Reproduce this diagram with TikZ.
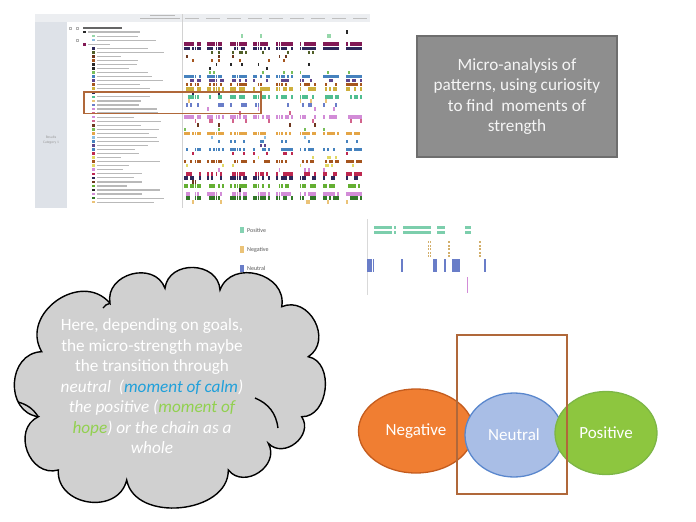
\documentclass[tikz,border=0pt]{standalone}
\usepackage{fontspec}
\setmainfont{Carlito}
\usetikzlibrary{shapes.geometric}

\definecolor{boxgray}{RGB}{142,142,142}
\definecolor{boxedge}{RGB}{110,110,110}
\definecolor{cloudgray}{RGB}{208,208,208}
\definecolor{hilite}{RGB}{176,104,58}
\definecolor{panel}{RGB}{222,226,232}
\definecolor{headgray}{RGB}{236,238,241}
\definecolor{calmblue}{RGB}{32,160,218}
\definecolor{hopegreen}{RGB}{146,208,80}
\definecolor{negfill}{RGB}{240,126,50}
\definecolor{negedge}{RGB}{196,92,30}
\definecolor{neufill}{RGB}{169,190,230}
\definecolor{neuedge}{RGB}{90,135,205}
\definecolor{posfill}{RGB}{141,198,63}
\definecolor{posedge}{RGB}{125,182,70}
% colours of the coded rows
\definecolor{nvblack}{RGB}{40,40,40}
\definecolor{mint}{RGB}{150,215,170}
\definecolor{maroon}{RGB}{130,25,85}
\definecolor{navy}{RGB}{45,40,90}
\definecolor{olive}{RGB}{80,95,40}
\definecolor{brownd}{RGB}{110,55,30}
\definecolor{rust}{RGB}{165,85,30}
\definecolor{ltgreen}{RGB}{120,190,90}
\definecolor{steel}{RGB}{70,130,190}
\definecolor{violet}{RGB}{95,70,140}
\definecolor{ochre}{RGB}{205,175,60}
\definecolor{teal}{RGB}{80,190,145}
\definecolor{sand}{RGB}{235,195,120}
\definecolor{codeblue}{RGB}{105,125,200}
\definecolor{pinkish}{RGB}{210,140,215}
\definecolor{rose}{RGB}{210,100,140}
\definecolor{orangey}{RGB}{228,165,70}
\definecolor{sky}{RGB}{140,190,225}
\definecolor{crimson}{RGB}{190,40,80}
\definecolor{lemon}{RGB}{225,215,100}
\definecolor{grass}{RGB}{100,175,50}
\definecolor{dgreen}{RGB}{50,120,40}

\begin{document}
\begin{tikzpicture}[x=1pt,y=-1pt,
    textbar/.style={fill=gray!55},
    puff/.style={bend left=85,looseness=1.35},
    legendtext/.style={anchor=west,inner sep=0,text=gray!70!black,font=\fontsize{6}{7}\selectfont},
    feeling/.style={ellipse,inner sep=0,line width=1.3,text=white,font=\fontsize{17}{20}\selectfont}]
\useasboundingbox (0,0) rectangle (696,522);

% screenshot of the coding timeline
\fill[white] (35,14) rectangle (370,208);
\fill[panel] (35,14) rectangle (67,208);
\fill[headgray] (35,14) rectangle (370,22);
\draw[gray!35] (182,14) -- (182,208);
\fill[gray!55] (150,14.8) rectangle (175,16);
\fill[gray!55] (140,18) rectangle (180,19.2);
\foreach \x in {192,213,...,362}
    \fill[gray!50] (\x-7,17.6) rectangle (\x+7,18.8);
\node[align=center,text=gray!80,font=\fontsize{3.6}{4.2}\selectfont] (rescat) at (51,140) {Results\\Category 1};

\pgfmathsetseed{11}
\foreach \rowcol/\dens [count=\i from 0] in {gray/0,nvblack/0.03,mint/0.02,sky/0,maroon/0.88,navy/0.82,
    olive/0.12,brownd/0.1,rust/0.1,nvblack/0.06,nvblack/0.05,ltgreen/0.08,steel/0.75,violet/0.5,
    rust/0.5,ochre/0.7,navy/0.05,teal/0.65,sand/0.12,codeblue/0.3,pinkish/0.1,rose/0.06,
    pinkish/0.72,rose/0.1,brownd/0.04,ltgreen/0.1,orangey/0.78,sky/0.08,steel/0.15,violet/0.04,
    steel/0.65,crimson/0.12,lemon/0.1,rust/0.6,lemon/0.08,pinkish/0.1,crimson/0.65,navy/0.6,
    brownd/0.05,grass/0.78,nvblack/0.08,pinkish/0.72,dgreen/0.72,sand/0.1} {
  \pgfmathsetmacro\yy{28+4.05*\i}
  \ifnum\i=0
    \draw[gray!60,line width=0.3] (69,\yy-1.2) rectangle (71.4,\yy+1.2);
    \fill[gray!80!black] (83,\yy-0.8) rectangle (122,\yy+0.8);
  \else
    \pgfmathsetmacro\sx{(\i==1 || \i==4) ? 83 : 92}
    \pgfmathsetmacro\len{22+45*rnd}
    \fill[\rowcol] (\sx,\yy-1.3) rectangle (\sx+2.6,\yy+1.3);
    \fill[textbar] (\sx+5,\yy-0.6) rectangle (\sx+5+\len,\yy+0.6);
    \foreach \cc in {0,...,87} {
      \pgfmathtruncatemacro\hit{(rnd<\dens && mod(\cc,11)<8) ? 1 : 0}
      \ifnum\hit=1
        \fill[\rowcol] (184+2.1*\cc,\yy-1.75) rectangle (185.9+2.1*\cc,\yy+1.75);
      \fi
    }
  \fi
}
\draw[gray!60,line width=0.3] (76,40.2-1.2) rectangle (78.4,40.2+1.2);
\draw[gray!60,line width=0.3] (76,28-1.2) rectangle (78.4,28+1.2);
\draw[hilite,line width=1.8] (84,92) rectangle (261,113.5);

% zoomed part of the timeline
\draw[gray!30] (367,219) -- (367,295);
\fill[teal!70] (240,226.5) rectangle (243.5,233);
\node[legendtext] (lpos) at (247,230) {Positive};
\fill[sand] (240,246) rectangle (243.5,252.5);
\node[legendtext] (lneg) at (247,249.5) {Negative};
\fill[codeblue] (240,265) rectangle (243.5,271.5);
\node[legendtext] (lneu) at (247,268.5) {Neutral};
\foreach \x in {374,376,378,380,382,384,386,388,390,394,403,405,407,409,411,413,415,417,419,421,423,425,427,429,437,439,441,443,465,467,469} {
    \fill[teal!75] (\x,225.5) rectangle (\x+1.5,229);
    \fill[teal!75] (\x,230.5) rectangle (\x+1.5,234);
}
\foreach \x in {428.5,430.5,449,480}
    \foreach \y in {241,244.5,248,251.5,255}
        \fill[sand!90!black] (\x-0.8,\y) rectangle (\x+0.8,\y+2.4);
\foreach \x in {368,369.8,371.6,373.4,402,434,436,445,453,455,457,459,485}
    \fill[codeblue] (\x-0.7,259) rectangle (\x+0.7,272);
\fill[pinkish] (466.5,277) rectangle (468,293);

% grey note
\node[draw=boxedge,fill=boxgray,line width=1.2,minimum width=200,minimum height=121,
    align=center,text=gray!8,font=\fontsize{17.2}{20.5}\selectfont] (note) at (517,96.5)
    {Micro-analysis of\\patterns, using curiosity\\to find\ \ moments of\\strength};

% thought cloud
\coordinate (v1) at (41.7,351.7);
\coordinate (v2) at (110,303.3);
\coordinate (v3) at (165,288.3);
\coordinate (v4) at (220,290);
\coordinate (v5) at (281.7,306.7);
\coordinate (v6) at (308.3,356.7);
\coordinate (v7) at (301.7,416.7);
\coordinate (v8) at (268.3,443.3);
\coordinate (v9) at (228.3,470);
\coordinate (v10) at (126.7,480);
\coordinate (v11) at (58.3,470);
\coordinate (v12) at (38.3,416.7);
\filldraw[draw=black,fill=cloudgray,line width=1.4] (v1) to[puff] (v2) to[puff] (v3) to[puff] (v4)
    to[puff] (v5) to[puff] (v6) to[puff,looseness=1.15] (v7) to[puff] (v8) to[puff] (v9)
    to[puff,looseness=1.1] (v10) to[puff] (v11) to[puff] (v12) to[puff] (v1) -- cycle;
\draw[line width=1.4] (18,402) to[bend left=20] (v12);
\draw[line width=1.4] (255,398) to[bend left=30] (278,428);
\draw[line width=1.4] (103,308) to[bend left=20] (v2);
\node[align=center,text=white,font=\fontsize{17.2}{20.5}\selectfont] (thoughttext) at (152,386.5)
    {Here, depending on goals,\\
     the micro-strength maybe\\
     the transition through\\
     \textit{neutral\ \ (\textcolor{calmblue}{moment of calm})}\\
     \textit{the positive (\textcolor{hopegreen}{moment of}}\\
     \textit{\textcolor{hopegreen}{hope}) or the chain as a}\\
     \textit{whole}};

% negative, neutral, positive
\node[feeling,draw=negedge,fill=negfill,minimum width=115,minimum height=84] (neg) at (416,431) {Negative};
\node[feeling,draw=neuedge,fill=neufill,minimum width=98,minimum height=84] (neu) at (514,435) {Neutral};
\node[feeling,draw=posedge,fill=posfill,minimum width=102,minimum height=83] (pos) at (606,433) {Positive};
\draw[hilite,line width=1.8] (457,335) rectangle (567,494);
\end{tikzpicture}
\end{document}
